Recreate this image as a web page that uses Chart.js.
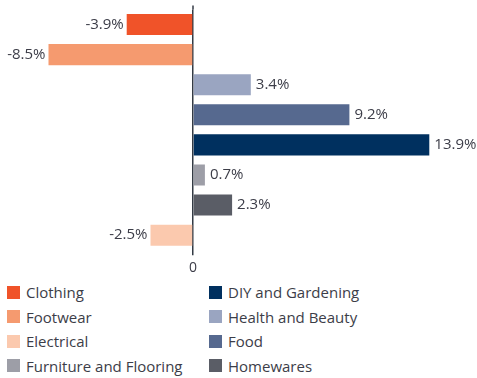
<!DOCTYPE html>
<html>
<head>
<meta charset="utf-8">
<script src="https://cdn.jsdelivr.net/npm/chart.js@4"></script>
<style>
  body { margin: 0; background: #fff; font-family: "Open Sans", sans-serif; }
  #wrap { position: relative; width: 477px; height: 280px; }
  #legend {
    display: grid;
    grid-template-columns: 202px 240px;
    grid-auto-flow: column;
    grid-template-rows: repeat(4, 24.5px);
    margin-left: 7px;
    margin-top: 0px;
    font-size: 15px;
    color: #3c3d48;
  }
  #legend div { display: flex; align-items: center; white-space: nowrap; }
  #legend span.box { display: inline-block; width: 13px; height: 13px; margin-right: 6px; }
</style>
</head>
<body>
<div id="wrap"><canvas id="chart" width="477" height="280"></canvas></div>
<div id="legend"></div>
<script>
// categorias en el orden de las barras (de arriba a abajo)
var categorias = ["Clothing", "Footwear", "Health and Beauty", "Food", "DIY and Gardening", "Furniture and Flooring", "Homewares", "Electrical"];
var valores = [-3.9, -8.5, 3.4, 9.2, 13.9, 0.7, 2.3, -2.5];
var colores = ["#f05329", "#f59a6f", "#9aa5c1", "#56698f", "#00305f", "#9d9ea7", "#5a5d66", "#fbc9ae"];
// orden de la leyenda (columna por columna)
var ordenLeyenda = ["Clothing", "Footwear", "Electrical", "Furniture and Flooring", "DIY and Gardening", "Health and Beauty", "Food", "Homewares"];
var ticksX = [0];

var colorTexto = "#3c3d48";
var colorEje = "#333a44";

// etiquetas de valor al final de cada barra
var etiquetas = {
    id: "etiquetas",
    afterDatasetsDraw: function(chart) {
        var ctx = chart.ctx;
        var meta = chart.getDatasetMeta(0);
        ctx.save();
        // pequeño tramo del eje cero por encima del area
        var x0 = chart.scales.x.getPixelForValue(0);
        ctx.strokeStyle = colorEje;
        ctx.lineWidth = 1.5;
        ctx.beginPath();
        ctx.moveTo(x0, chart.chartArea.top - 4);
        ctx.lineTo(x0, chart.chartArea.top);
        ctx.stroke();

        ctx.font = "15px 'Open Sans'";
        ctx.fillStyle = colorTexto;
        ctx.textBaseline = "middle";
        meta.data.forEach(function(bar, i) {
            var v = valores[i];
            var txt = v.toFixed(1) + "%";
            if (v < 0) {
                ctx.textAlign = "right";
                ctx.fillText(txt, bar.x - 3, bar.y);
            } else {
                ctx.textAlign = "left";
                ctx.fillText(txt, bar.x + 5, bar.y);
            }
        });
        ctx.restore();
    }
};

var ctx = document.getElementById("chart").getContext("2d");
var grafico = new Chart(ctx, {
    type: "bar",
    data: {
        labels: categorias,
        datasets: [{
            data: valores,
            backgroundColor: colores,
            borderWidth: 0,
            barPercentage: 0.7,
            categoryPercentage: 1
        }]
    },
    options: {
        indexAxis: "y",
        responsive: false,
        animation: false,
        maintainAspectRatio: false,
        layout: { padding: { left: 23, right: 29, top: 9.5, bottom: 0 } },
        plugins: {
            legend: { display: false },
            tooltip: { enabled: false }
        },
        scales: {
            x: {
                min: -10,
                max: 15,
                afterBuildTicks: function(axis) {
                    axis.ticks = ticksX.map(function(v) { return { value: v }; });
                },
                border: { display: false },
                grid: {
                    color: colorEje,
                    lineWidth: 1.5,
                    tickLength: 5,
                    drawOnChartArea: true
                },
                ticks: {
                    color: colorTexto,
                    padding: 4,
                    font: { family: "Open Sans", size: 14 }
                }
            },
            y: {
                display: false
            }
        }
    },
    plugins: [etiquetas]
});

// leyenda en dos columnas
var leyenda = document.getElementById("legend");
ordenLeyenda.forEach(function(nombre) {
    var idx = categorias.indexOf(nombre);
    var item = document.createElement("div");
    item.innerHTML = '<span class="box" style="background:' + colores[idx] + '"></span>' + nombre;
    leyenda.appendChild(item);
});
</script>
</body>
</html>
